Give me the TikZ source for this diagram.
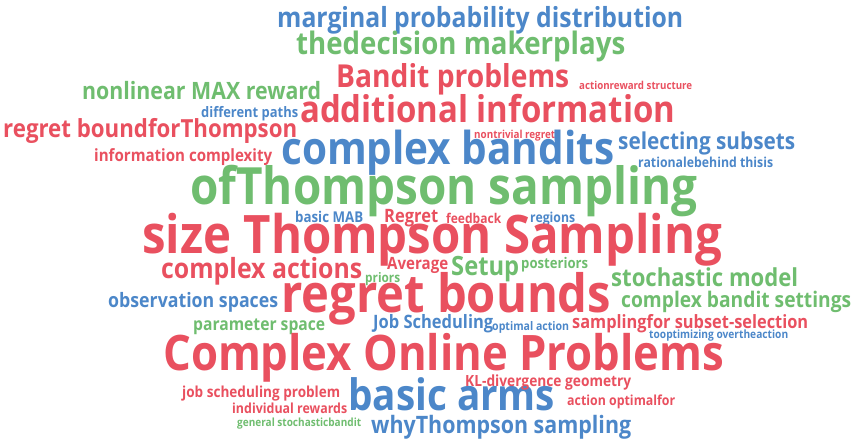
\documentclass[tikz,border=0pt]{standalone}
\usepackage{fontspec}
\setmainfont{Open Sans}
\usepackage{graphicx}
\definecolor{wred}{HTML}{E9505F}
\definecolor{wblue}{HTML}{4C87C9}
\definecolor{wgreen}{HTML}{6FBD6F}
\newcommand\cloudword[6]{\node[cw, text=#5] (#6) at (#1,#2) {\resizebox{#3pt}{!}{\scalebox{1}[1.12]{#4}}};}
\begin{document}
\begin{tikzpicture}[x=1pt,y=-1pt, cw/.style={anchor=base west, inner sep=0pt, font=\bfseries}]
\useasboundingbox (0,0) rectangle (852,439);
\cloudword{277}{27}{406}{marginal probability distribution}{wblue}{w1}
\cloudword{296}{55}{329}{thedecision makerplays}{wgreen}{w2}
\cloudword{336}{87}{233}{Bandit problems}{wred}{w3}
\cloudword{579}{89}{113}{actionreward structure}{wred}{w4}
\cloudword{82}{99}{239}{nonlinear MAX reward}{wgreen}{w5}
\cloudword{201}{117}{97}{different paths}{wblue}{w6}
\cloudword{300}{122}{375}{additional information}{wred}{w7}
\cloudword{3}{137}{294}{regret boundforThompson}{wred}{w8}
\cloudword{474}{138}{81}{nontrivial regret}{wred}{w9}
\cloudword{618}{149}{177}{selecting subsets}{wblue}{w10}
\cloudword{281}{164}{333}{complex bandits}{wblue}{w11}
\cloudword{638}{167}{135}{rationalebehind thisis}{wblue}{w12}
\cloudword{94}{161}{178}{information complexity}{wred}{w13}
\cloudword{190}{204}{507}{ofThompson sampling}{wgreen}{w14}
\cloudword{295}{222}{68}{basic MAB}{wblue}{w15}
\cloudword{384}{222}{54}{Regret}{wred}{w16}
\cloudword{446}{223}{55}{feedback}{wred}{w17}
\cloudword{530}{222}{45}{regions}{wblue}{w18}
\cloudword{142}{253}{580}{size Thompson Sampling}{wred}{w19}
\cloudword{161}{278}{201}{complex actions}{wred}{w20}
\cloudword{387}{269}{61}{Average}{wred}{w21}
\cloudword{365}{282}{35}{priors}{wgreen}{w22}
\cloudword{451}{275}{68}{Setup}{wgreen}{w23}
\cloudword{521}{268}{67}{posteriors}{wgreen}{w24}
\cloudword{611}{286}{187}{stochastic model}{wgreen}{w25}
\cloudword{281}{312}{330}{regret bounds}{wred}{w26}
\cloudword{108}{307}{170}{observation spaces}{wblue}{w27}
\cloudword{621}{307}{230}{complex bandit settings}{wgreen}{w28}
\cloudword{193}{330}{132}{parameter space}{wgreen}{w29}
\cloudword{373}{328}{120}{Job Scheduling}{wblue}{w30}
\cloudword{492}{330}{77}{optimal action}{wblue}{w31}
\cloudword{572}{328}{236}{samplingfor subset-selection}{wred}{w32}
\cloudword{649}{338}{139}{tooptimizing overtheaction}{wblue}{w33}
\cloudword{163}{370}{561}{Complex Online Problems}{wred}{w34}
\cloudword{182}{397}{158}{job scheduling problem}{wred}{w35}
\cloudword{348}{410}{207}{basic arms}{wblue}{w36}
\cloudword{465}{386}{166}{KL-divergence geometry}{wred}{w37}
\cloudword{232}{413}{115}{individual rewards}{wred}{w38}
\cloudword{567}{405}{108}{action optimalfor}{wred}{w39}
\cloudword{237}{426}{124}{general stochasticbandit}{wgreen}{w40}
\cloudword{371}{433}{260}{whyThompson sampling}{wblue}{w41}
\end{tikzpicture}
\end{document}
